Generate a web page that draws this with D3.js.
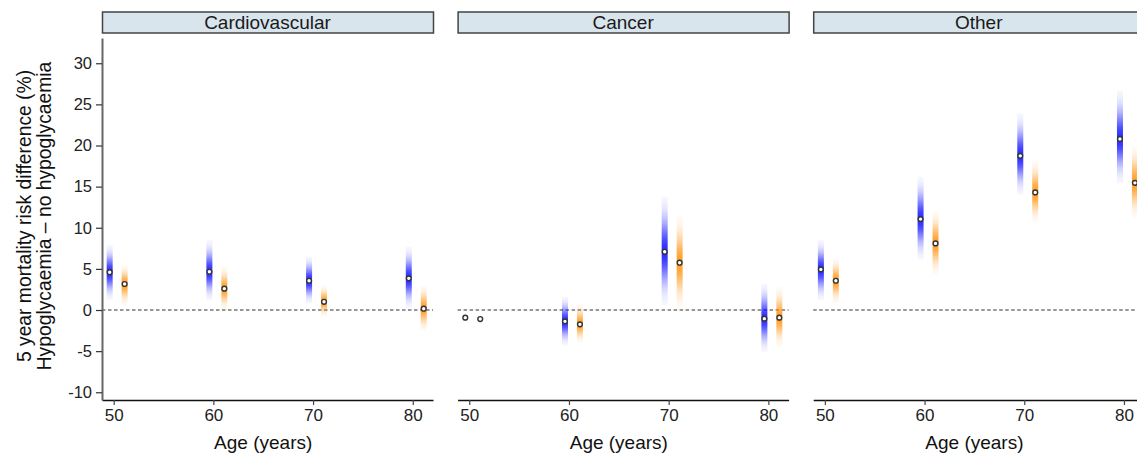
<!DOCTYPE html>
<html>
<head>
<meta charset="utf-8">
<script src="https://cdn.jsdelivr.net/npm/d3@7"></script>
<style>
  body { margin: 0; background: #fff; }
  text { font-family: "Liberation Sans", Arial, sans-serif; }
</style>
</head>
<body>
<svg width="1137" height="456"></svg>
<script>
// data, [cause][age]
var causes = ["Cardiovascular", "Cancer", "Other"];
var ages = [50, 60, 70, 80];
var yTicks = [-10, -5, 0, 5, 10, 15, 20, 25, 30];

var blueEst  = [[4.6, 4.65, 3.56, 3.85], [-0.93, -1.38, 7.08, -1.05], [4.94, 11.05, 18.74, 20.8]];
var blueLow  = [[1.2, 1.2, 0.8, 0.2], [null, -4.3, 0.6, -5.1], [1.2, 6.1, 14.0, 15.4]];
var blueHigh = [[7.9, 8.5, 6.5, 7.7], [null, 1.6, 13.8, 3.2], [8.5, 16.2, 23.9, 26.7]];

var orangeEst  = [[3.16, 2.6, 1.0, 0.16], [-1.1, -1.74, 5.75, -0.93], [3.56, 8.1, 14.3, 15.46]];
var orangeLow  = [[0.6, 0.0, -0.8, -2.6], [null, -4.0, 0.0, -4.5], [0.8, 4.25, 10.6, 11.2]];
var orangeHigh = [[5.5, 5.3, 3.0, 3.0], [null, 0.8, 11.5, 2.8], [6.3, 12.1, 18.2, 20.0]];

var svg = d3.select("svg");
var defs = svg.append("defs");

var panelW = 331, panelStep = 355.6, panelLeft = 102;
var plotTop = 38, plotBottom = 400;

var x = d3.scaleLinear().domain([48.83, 82.03]).range([0, panelW]);
var y = d3.scaleLinear().domain([-10.94, 33.07]).range([plotBottom, plotTop]);

var series = [
  {name: "blue", est: blueEst, low: blueLow, high: blueHigh, col: "rgb(0,0,255)", off: -0.4},
  {name: "orange", est: orangeEst, low: orangeLow, high: orangeHigh, col: "rgb(255,140,0)", off: 1.1}
];

var gid = 0;
function gradient(col, est, low, high) {
  var id = "g" + (gid++);
  var lg = defs.append("linearGradient").attr("id", id)
    .attr("x1", 0).attr("y1", 0).attr("x2", 0).attr("y2", 1);
  // alpha follows a normal density on each side of the estimate
  for (var i = 0; i <= 40; i++) {
    var v = high - (high - low) * i / 40;
    var sd = v > est ? (high - est) / 2.6 : (est - low) / 2.6;
    var z = (v - est) / sd;
    lg.append("stop").attr("offset", (i / 40 * 100) + "%")
      .attr("stop-color", col).attr("stop-opacity", 0.82 * Math.exp(-z * z / 2));
  }
  return "url(#" + id + ")";
}

causes.forEach(function(cause, ci) {
  var g = svg.append("g").attr("transform", "translate(" + (panelLeft + ci * panelStep) + ",0)");

  // strip
  g.append("rect").attr("x", 0.5).attr("y", 12).attr("width", panelW).attr("height", 21)
    .attr("fill", "#d9e5ec").attr("stroke", "#444").attr("stroke-width", 1.5);
  g.append("text").attr("x", panelW / 2).attr("y", 29).attr("text-anchor", "middle")
    .style("font-size", "19px").attr("fill", "#1a1a1a").text(cause);

  // zero line
  g.append("line").attr("x1", 0).attr("x2", panelW).attr("y1", y(0)).attr("y2", y(0))
    .attr("stroke", "#333").attr("stroke-width", 1.1).attr("stroke-dasharray", "3.5,2.5");

  // x axis
  var xa = g.append("g").attr("transform", "translate(0," + plotBottom + ")")
    .call(d3.axisBottom(x).tickValues(ages).tickSize(5).tickPadding(4).tickSizeOuter(0));
  xa.select(".domain").attr("stroke", "#111").attr("stroke-width", 1.5);
  xa.selectAll(".tick line").attr("stroke", "#444").attr("stroke-width", 1.2);
  xa.selectAll(".tick text").style("font-size", "17px").attr("fill", "#222")
    .style("font-family", "Liberation Sans, Arial, sans-serif");
  g.append("text").attr("x", x(65)).attr("y", 449).attr("text-anchor", "middle")
    .style("font-size", "19px").attr("fill", "#111").text("Age (years)");

  // intervals
  series.forEach(function(s) {
    ages.forEach(function(a, ai) {
      var lo = s.low[ci][ai], hi = s.high[ci][ai], e = s.est[ci][ai];
      if (lo === null) return;
      g.append("rect")
        .attr("x", x(a + s.off) - 3).attr("width", 6)
        .attr("y", y(hi)).attr("height", y(lo) - y(hi))
        .attr("fill", gradient(s.col, e, lo, hi));
    });
  });
  series.forEach(function(s) {
    g.selectAll("circle." + s.name).data(ages).enter().append("circle")
      .attr("class", s.name)
      .attr("cx", function(a) { return x(a + s.off); })
      .attr("cy", function(a, ai) { return y(s.est[ci][ai]); })
      .attr("r", 2.4)
      .attr("fill", "#fff").attr("stroke", "#333").attr("stroke-width", 1.4);
  });

  if (ci === 0) {
    var ya = g.append("g")
      .call(d3.axisLeft(y).tickValues(yTicks).tickSize(6).tickPadding(4).tickSizeOuter(0)
        .tickFormat(function(d) { return String(d); }));
    ya.select(".domain").attr("stroke", "#666").attr("stroke-width", 2);
    ya.selectAll(".tick line").attr("stroke", "#333").attr("stroke-width", 1.2);
    ya.selectAll(".tick text").style("font-size", "16.5px").attr("fill", "#222")
      .style("font-family", "Liberation Sans, Arial, sans-serif");
  }
});

// y title, two lines
var yt = svg.append("text").attr("transform", "translate(0,216) rotate(-90)")
  .attr("text-anchor", "middle").style("font-size", "19.3px").attr("fill", "#111");
yt.append("tspan").attr("x", 0).attr("y", 31).text("5 year mortality risk difference (%)");
yt.append("tspan").attr("x", 0).attr("y", 51).text("Hypoglycaemia \u2013 no hypoglycaemia");
</script>
</body>
</html>
